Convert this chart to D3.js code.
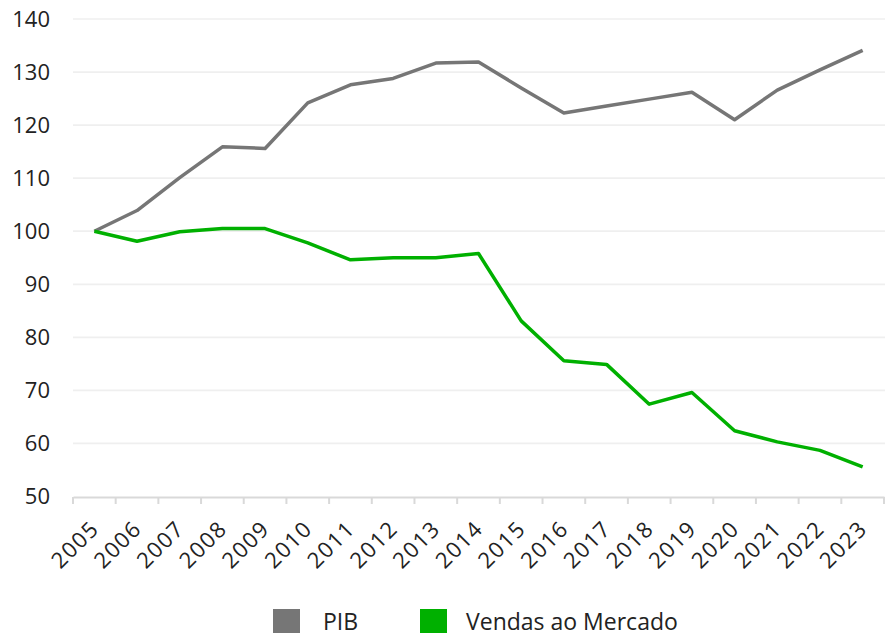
<!DOCTYPE html>
<html lang="pt">
<head>
<meta charset="UTF-8">
<title>PIB vs Vendas ao Mercado</title>
<script src="https://d3js.org/d3.v7.min.js"></script>
<style>
  body { margin: 0; background: #fff; font-family: "Open Sans", Arial, sans-serif; }
  svg { display: block; }
</style>
</head>
<body>
<svg width="885" height="633"></svg>
<script>
const years = ["2005","2006","2007","2008","2009","2010","2011","2012","2013","2014",
               "2015","2016","2017","2018","2019","2020","2021","2022","2023"];
const pib    = [100, 103.9, 110.1, 115.9, 115.6, 124.2, 127.6, 128.8, 131.7, 131.9,
                127.0, 122.3, 123.6, 124.9, 126.2, 121.0, 126.6, 130.4, 134.1];
const vendas = [100, 98.1, 99.9, 100.5, 100.5, 97.8, 94.6, 95.0, 95.0, 95.8,
                83.1, 75.6, 74.9, 67.4, 69.6, 62.4, 60.3, 58.7, 55.6];
const yTicks = [50, 60, 70, 80, 90, 100, 110, 120, 130, 140];
const seriesNames = ["PIB", "Vendas ao Mercado"];
const colors = ["#767676", "#00b000"];

const svg = d3.select("svg");
const margin = {top: 19, right: 0, bottom: 136, left: 73};
const width = 885 - margin.left - margin.right,
      height = 633 - margin.top - margin.bottom;

const g = svg.append("g").attr("transform", `translate(${margin.left},${margin.top})`);

const x = d3.scaleBand().domain(years).range([0, width - 1]);
const y = d3.scaleLinear().domain([50, 140]).range([height - 0.5, 0]);

// gridlines
g.append("g")
  .selectAll("line")
  .data(yTicks.slice(1))
  .join("line")
    .attr("x1", 0).attr("x2", width)
    .attr("y1", d => y(d)).attr("y2", d => y(d))
    .attr("stroke", "#efefef").attr("stroke-width", 1.7);

// y axis labels
const yAxis = g.append("g")
  .call(d3.axisLeft(y).tickValues(yTicks).tickSize(0).tickPadding(23));
yAxis.select(".domain").remove();
yAxis.selectAll("text")
  .attr("font-size", 22).attr("fill", "#222")
  .attr("font-family", "'Open Sans', Arial, sans-serif");

// x axis
const xAxis = g.append("g")
  .attr("transform", `translate(0,${height})`)
  .call(d3.axisBottom(x).tickSize(0));
xAxis.select(".domain").attr("stroke", "#d9d9d9").attr("stroke-width", 2);
xAxis.selectAll(".tick text")
  .attr("font-size", 22).attr("fill", "#222")
  .attr("font-family", "'Open Sans', Arial, sans-serif")
  .attr("letter-spacing", "1.5px")
  .attr("text-anchor", "end")
  .attr("y", 0)
  .attr("dy", 0)
  .attr("transform", "translate(6,33) rotate(-45)");

// band boundary ticks
g.append("g")
  .selectAll("line")
  .data(years.concat(["end"]))
  .join("line")
    .attr("x1", (d, i) => i < years.length ? x(d) : x(years[years.length - 1]) + x.bandwidth())
    .attr("x2", (d, i) => i < years.length ? x(d) : x(years[years.length - 1]) + x.bandwidth())
    .attr("y1", height).attr("y2", height + 7)
    .attr("stroke", "#d9d9d9").attr("stroke-width", 2);

// lines
const line = d3.line()
  .x((d, i) => x(years[i]) + x.bandwidth() / 2)
  .y(d => y(d));

[pib, vendas].forEach((s, k) => {
  g.append("path")
    .datum(s)
    .attr("fill", "none")
    .attr("stroke", colors[k])
    .attr("stroke-width", 3.5)
    .attr("stroke-linejoin", "round")
    .attr("d", line);
});

// legend
const legend = svg.append("g");
const legendX = [273, 420];
const legendTextX = [323, 466];
seriesNames.forEach((name, k) => {
  legend.append("rect")
    .attr("x", legendX[k]).attr("y", 609)
    .attr("width", 27).attr("height", 24)
    .attr("fill", colors[k]);
  legend.append("text")
    .attr("x", legendTextX[k]).attr("y", 630)
    .attr("font-size", 23).attr("fill", "#222")
    .text(name);
});
</script>
</body>
</html>
